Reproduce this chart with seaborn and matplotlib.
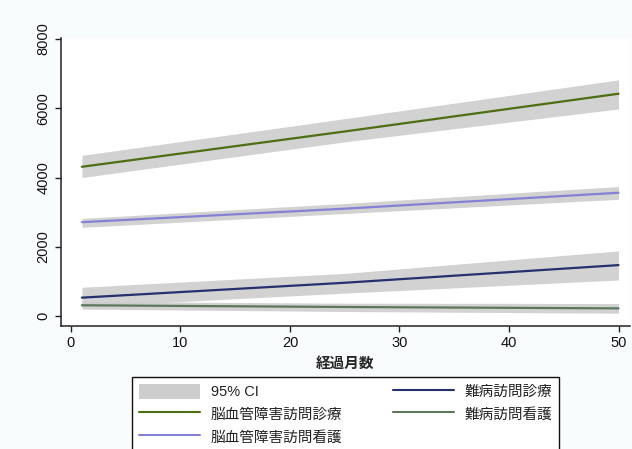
import matplotlib
matplotlib.use("Agg")
import matplotlib.pyplot as plt
import numpy as np
import pandas as pd
import seaborn as sns
from matplotlib.patches import Patch
from matplotlib.lines import Line2D

# Fitted trends by elapsed month, with 95% confidence limits
months = [1, 25, 50]

cvd_home_medical = [4310, 5330, 6420]
cvd_home_medical_lo = [4000, 5030, 5980]
cvd_home_medical_hi = [4640, 5700, 6820]

cvd_home_nursing = [2710, 3100, 3560]
cvd_home_nursing_lo = [2560, 2960, 3370]
cvd_home_nursing_hi = [2820, 3250, 3740]

intractable_medical = [530, 960, 1470]
intractable_medical_lo = [270, 660, 1040]
intractable_medical_hi = [830, 1230, 1880]

intractable_nursing = [310, 260, 220]
intractable_nursing_lo = [200, 130, 80]
intractable_nursing_hi = [420, 370, 360]

series_names = ["脳血管障害訪問診療", "脳血管障害訪問看護", "難病訪問診療", "難病訪問看護"]
ci_label = "95% CI"
x_ticks = [0, 10, 20, 30, 40, 50]
y_ticks = [0, 2000, 4000, 6000, 8000]
x_title = "経過月数"

colors = {
    "脳血管障害訪問診療": "#4f6e14",
    "脳血管障害訪問看護": "#8581d4",
    "難病訪問診療": "#25306e",
    "難病訪問看護": "#5d775d",
}

series = [
    (series_names[0], cvd_home_medical, cvd_home_medical_lo, cvd_home_medical_hi),
    (series_names[1], cvd_home_nursing, cvd_home_nursing_lo, cvd_home_nursing_hi),
    (series_names[2], intractable_medical, intractable_medical_lo, intractable_medical_hi),
    (series_names[3], intractable_nursing, intractable_nursing_lo, intractable_nursing_hi),
]

df = pd.concat(
    [pd.DataFrame({"month": months, "value": v, "series": name}) for name, v, _, _ in series],
    ignore_index=True,
)

sns.set_style("ticks")
plt.rcParams["font.family"] = ["Liberation Sans", "Noto Sans CJK JP", "DejaVu Sans"]

W, H = 632, 449
fig = plt.figure(figsize=(W / 100, H / 100), dpi=100, facecolor="#f9fcfd")
ax = fig.add_axes([61 / W, 1 - 326 / H, (630 - 61) / W, (326 - 38) / H])
ax.set_facecolor("white")

ci_color = "#cdcdcd"
for name, v, lo, hi in series:
    ax.fill_between(months, lo, hi, color=ci_color, alpha=0.9, linewidth=0, zorder=1)

sns.lineplot(data=df, x="month", y="value", hue="series", palette=colors,
             hue_order=series_names, linewidth=1.6, legend=False, ax=ax, zorder=3)

ax.set_xlim(-0.91, 51.05)
ax.set_ylim(-289, 8030)
ax.set_xticks(x_ticks)
ax.set_yticks(y_ticks)
ax.set_xticklabels([str(t) for t in x_ticks], fontsize=10.5)
ax.set_yticklabels([str(t) for t in y_ticks], fontsize=10.5, rotation=90, va="center")
ax.tick_params(axis="both", length=4.5, width=1, color="#222222", labelcolor="#111111")
ax.tick_params(axis="x", pad=2.5)
ax.tick_params(axis="y", pad=3)
for side in ("top", "right"):
    ax.spines[side].set_visible(False)
for side in ("left", "bottom"):
    ax.spines[side].set_linewidth(1.1)
    ax.spines[side].set_color("#222222")

ax.set_xlabel(x_title, fontsize=10.5, fontweight="bold", labelpad=4,
              family=["Noto Sans CJK JP", "DejaVu Sans"])
ax.set_ylabel("")

handles = [Patch(facecolor=ci_color, edgecolor="none")]
labels = [ci_label]
for name in series_names:
    handles.append(Line2D([0], [0], color=colors[name], linewidth=1.5))
    labels.append(name)

leg = fig.legend(
    handles, labels, ncol=2, loc="upper left",
    bbox_to_anchor=(132 / W, -0.5, 427 / W, 0.5 + (1 - 377 / H)),
    mode="expand", frameon=True, fancybox=False, edgecolor="#111111",
    framealpha=1, facecolor="white", fontsize=10.5, handlelength=4.2,
    handleheight=1.2, handletextpad=0.75, labelspacing=0.5, borderpad=0.45,
    borderaxespad=0,
)
leg.get_frame().set_linewidth(1.0)
for t in leg.get_texts():
    t.set_color("#222222")

fig.savefig("out.png", dpi=100, facecolor=fig.get_facecolor())
